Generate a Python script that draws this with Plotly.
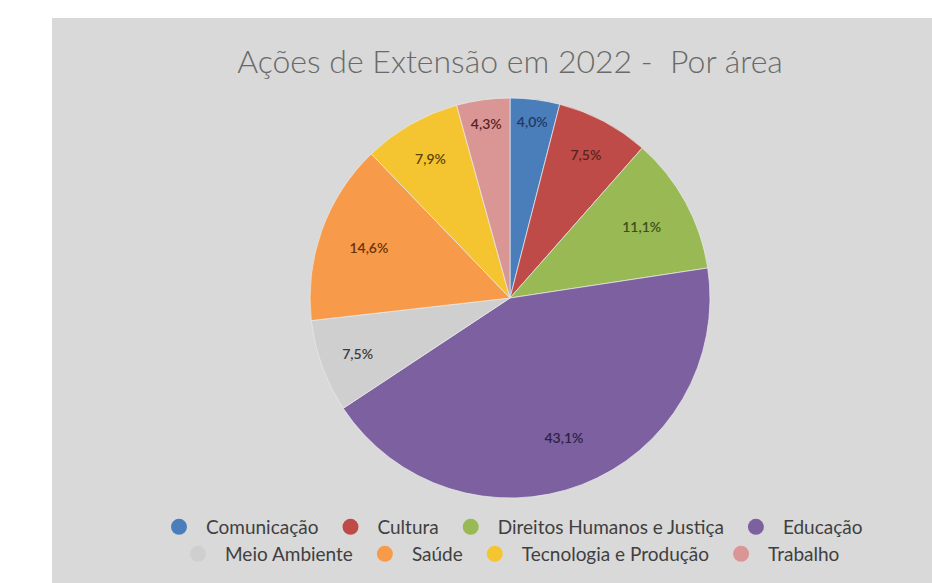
import plotly.graph_objects as go

# Share of extension actions in 2022, by thematic area (percent)
areas = ["Comunicação", "Cultura", "Direitos Humanos e Justiça", "Educação",
         "Meio Ambiente", "Saúde", "Tecnologia e Produção", "Trabalho"]
shares = [4.0, 7.5, 11.1, 43.1, 7.5, 14.6, 7.9, 4.3]

slice_colors = ["#4A7EBB", "#BE4B48", "#98B954", "#7D60A0",
                "#CFCFCF", "#F79A4A", "#F5C431", "#D99694"]
label_colors = ["#1F3864", "#5A2220", "#3D4F1C", "#2E2245",
                "#3A3A3A", "#6B3208", "#5C4500", "#5A2220"]

W, H = 932, 583
PANEL_L, PANEL_T = 52, 18
pw, ph = W - PANEL_L, H - PANEL_T
FONT = "Lato, Open Sans, sans-serif"


def fx(px):
    return (px - PANEL_L) / pw


def fy(py):
    return 1 - (py - PANEL_T) / ph


pie_domain = dict(x=[fx(310), fx(710)], y=[fy(498), fy(98)])

fig = go.Figure()

# the slices themselves
fig.add_trace(go.Pie(
    labels=areas, values=shares, sort=False, direction="clockwise", rotation=0,
    marker=dict(colors=slice_colors, line=dict(color="rgba(235,235,235,0.7)", width=1)),
    textinfo="none", showlegend=False, domain=pie_domain,
    hoverinfo="label+percent",
))

# transparent ring carrying the percentage labels, so they sit out towards the rim
fig.add_trace(go.Pie(
    labels=areas, values=shares, sort=False, direction="clockwise", rotation=0,
    hole=0.5,
    marker=dict(colors=["rgba(0,0,0,0)"] * len(areas), line=dict(width=0)),
    texttemplate="%{percent:.1%}", textposition="inside",
    insidetextorientation="horizontal",
    textfont=dict(family=FONT, size=14, color=label_colors, weight=600),
    showlegend=False, domain=pie_domain, hoverinfo="skip",
))

# legend entries, first four on the top row, the rest below
for i, (name, col) in enumerate(zip(areas, slice_colors)):
    fig.add_trace(go.Scatter(
        x=[None], y=[None], mode="markers", name=name,
        marker=dict(symbol="circle", size=20, color=col),
        legend="legend" if i < 4 else "legend2", hoverinfo="skip",
    ))

legend_common = dict(orientation="h", xanchor="center", yanchor="middle",
                     font=dict(family=FONT, size=19, color="#404040"),
                     bgcolor="rgba(0,0,0,0)", itemsizing="trace", itemwidth=44)

fig.update_layout(
    width=W, height=H,
    separators=",.",
    paper_bgcolor="white",
    plot_bgcolor="rgba(0,0,0,0)",
    margin=dict(l=PANEL_L, r=0, t=PANEL_T, b=0, pad=0),
    xaxis=dict(visible=False), yaxis=dict(visible=False),
    shapes=[dict(type="rect", xref="paper", yref="paper", x0=0, x1=1, y0=0, y1=1,
                 fillcolor="#D9D9D9", line=dict(width=0), layer="below")],
    title=dict(text="Ações de Extensão em 2022 -  Por área",
               xref="paper", x=fx(510), xanchor="center", y=1 - 62 / H, yanchor="middle",
               font=dict(family=FONT, size=32, color="#6A6A6A", weight=300)),
    legend=dict(x=fx(510), y=fy(527), **legend_common),
    legend2=dict(x=fx(508), y=fy(554), **legend_common),
    showlegend=True,
)

fig.write_html("out.html")
